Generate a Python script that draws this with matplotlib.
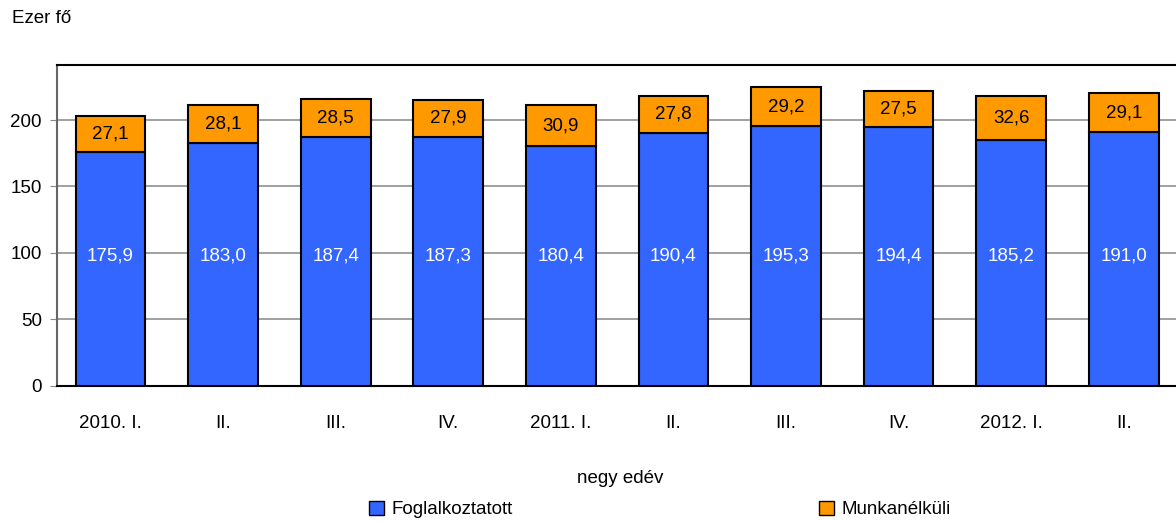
import numpy as np
import matplotlib.pyplot as plt
from matplotlib.patches import Patch

plt.rcParams['font.family'] = ['Liberation Sans Narrow', 'Liberation Sans', 'DejaVu Sans']

quarters = ['2010. I.', 'II.', 'III.', 'IV.', '2011. I.', 'II.', 'III.', 'IV.', '2012. I.', 'II.']
employed = [175.9, 183.0, 187.4, 187.3, 180.4, 190.4, 195.3, 194.4, 185.2, 191.0]
unemployed = [27.1, 28.1, 28.5, 27.9, 30.9, 27.8, 29.2, 27.5, 32.6, 29.1]

blue = '#3366FF'
orange = '#FF9900'

fig = plt.figure(figsize=(11.76, 5.21), dpi=100)
ax = fig.add_axes([0.0485, 0.2597, 0.9530, 0.6155])

x = np.arange(len(quarters))
w = 0.62
ax.bar(x, employed, w, color=blue, edgecolor='black', linewidth=1.5, zorder=3)
ax.bar(x, unemployed, w, bottom=employed, color=orange, edgecolor='black', linewidth=1.5, zorder=3)

def fmt(v):
    return f'{v:.1f}'.replace('.', ',')

for i in range(len(x)):
    ax.text(x[i], 98, fmt(employed[i]), ha='center', va='center', color='white', fontsize=13.5, zorder=4)
    ax.text(x[i], employed[i] + unemployed[i] / 2, fmt(unemployed[i]), ha='center', va='center',
            color='black', fontsize=13.5, zorder=4)

ax.set_xlim(-0.475, 9.48)
ax.set_ylim(0, 241.4)
ax.set_yticks([0, 50, 100, 150, 200])
ax.set_xticks(x)
ax.set_xticklabels(quarters)
ax.tick_params(axis='y', labelsize=13.5, length=5, color='#888888', pad=6)
ax.tick_params(axis='x', labelsize=13.5, length=0, pad=21)
ax.yaxis.grid(True, color='#999999', linewidth=1.3, zorder=0)
for s in ['top', 'bottom']:
    ax.spines[s].set_linewidth(1.5)
ax.spines['left'].set_color('#666666')
ax.spines['left'].set_linewidth(1.5)
ax.spines['right'].set_visible(False)

fig.text(0.010, 0.965, 'Ezer fő', fontsize=13.5, ha='left', va='center')
fig.text(0.527, 0.082, 'negy edév', fontsize=13.5, ha='center', va='center')

fig.legend(handles=[Patch(facecolor=blue, edgecolor='black', label='Foglalkoztatott'),
                    Patch(facecolor=orange, edgecolor='black', label='Munkanélküli')],
           loc='center', bbox_to_anchor=(0.561, 0.022), ncol=2, frameon=False, fontsize=13.5,
           handlelength=0.8, handleheight=0.8, handletextpad=0.4, columnspacing=16.3)

fig.savefig('out.png', dpi=100)
